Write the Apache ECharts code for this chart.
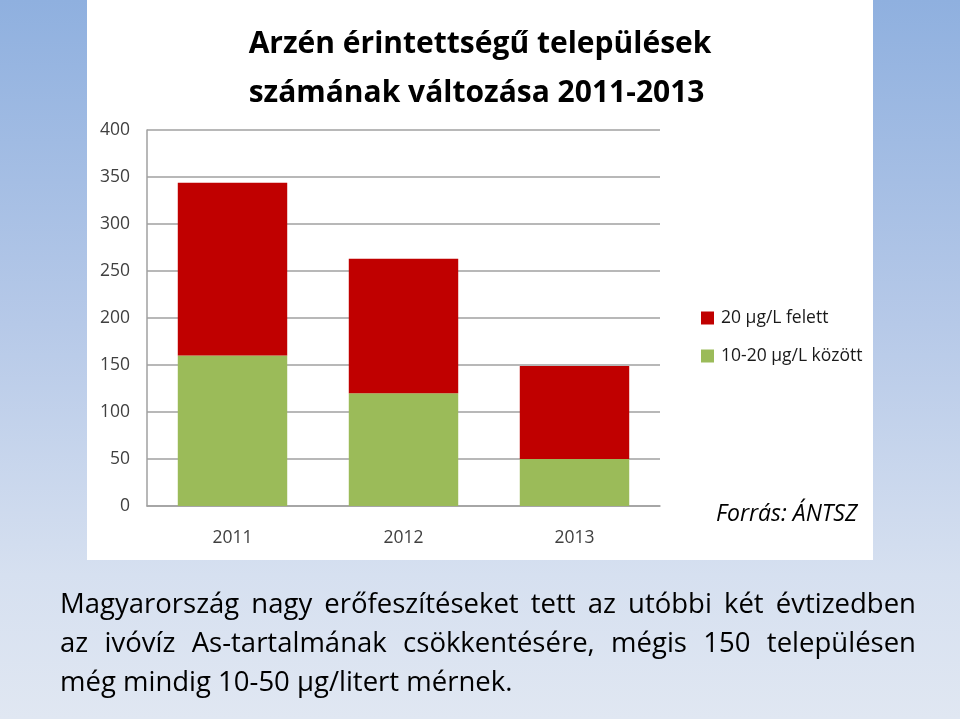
<!DOCTYPE html>
<html><head><meta charset="utf-8">
<script src="https://cdn.jsdelivr.net/npm/echarts@6/dist/echarts.min.js"></script>
<style>
html,body{margin:0;padding:0;width:960px;height:719px;overflow:hidden;
background:linear-gradient(to bottom,#8fb0df 0%,#b6c9e8 45%,#d6e0f0 80%,#e0e7f2 100%);}
#chart{position:absolute;left:0;top:0;width:960px;height:719px;}
#para{position:absolute;left:60px;width:856px;top:583px;font-family:"Open Sans",sans-serif;font-size:27.5px;color:#000;line-height:39px;}
#para div{text-align:justify;text-align-last:justify;white-space:nowrap;}
#para div.last{text-align-last:left;}
</style></head><body>
<div id="chart"></div>
<div id="para">
<div>Magyarország nagy erőfeszítéseket tett az utóbbi két évtizedben</div>
<div>az ivóvíz As-tartalmának csökkentésére, mégis 150 településen</div>
<div class="last">még mindig 10-50 μg/litert mérnek.</div>
</div>
<script>
const categories = ['2011','2012','2013'];
const seriesNames = ['10-20 μg/L között','20 μg/L felett'];
const green = [160,120,50];
const red = [184,143,99];
const titleLines = ['Arzén érintettségű települések','számának változása 2011-2013'];
const source = 'Forrás: ÁNTSZ';

const chart = echarts.init(document.getElementById('chart'));
chart.setOption({
  backgroundColor:'transparent',
  animation:false,
  graphic:[
    {type:'rect',shape:{x:87,y:0,width:786,height:560},style:{fill:'#ffffff'},z:-10},
    {type:'text',left:'center',top:20,style:{text:titleLines.join('\n'),font:'bold 30px "Open Sans", sans-serif',fill:'#000',lineHeight:49,align:'center'}},
    {type:'text',x:716,y:503,style:{text:source,font:'italic 23px "Open Sans", sans-serif',fill:'#000'}}
  ],
  legend:{
    data:[seriesNames[1],seriesNames[0]],
    orient:'vertical',left:696,top:304,itemWidth:13,itemHeight:13,itemGap:20,
    icon:'rect',
    textStyle:{fontFamily:'"Open Sans", sans-serif',fontSize:17.5,color:'#1a1a1a',padding:[0,0,0,2]}
  },
  grid:{left:147,right:300,top:130,bottom:213},
  xAxis:{type:'category',data:categories,
    axisLine:{lineStyle:{color:'#a0a0a0',width:1.5}},axisTick:{show:false},
    axisLabel:{fontFamily:'"Open Sans", sans-serif',fontSize:17.5,color:'#404040',margin:23}},
  yAxis:{type:'value',min:0,max:400,interval:50,
    axisLine:{show:true,lineStyle:{color:'#a0a0a0',width:1.5}},axisTick:{show:false},
    splitLine:{lineStyle:{color:'#a0a0a0',width:1.5}},
    axisLabel:{fontFamily:'"Open Sans", sans-serif',fontSize:17.5,color:'#404040',margin:17}},
  series:[
    {name:seriesNames[0],type:'bar',stack:'a',data:green,barWidth:'64%',itemStyle:{color:'#9BBB59'}},
    {name:seriesNames[1],type:'bar',stack:'a',data:red,barWidth:'64%',itemStyle:{color:'#C00000'}}
  ]
});
</script>
</body></html>
